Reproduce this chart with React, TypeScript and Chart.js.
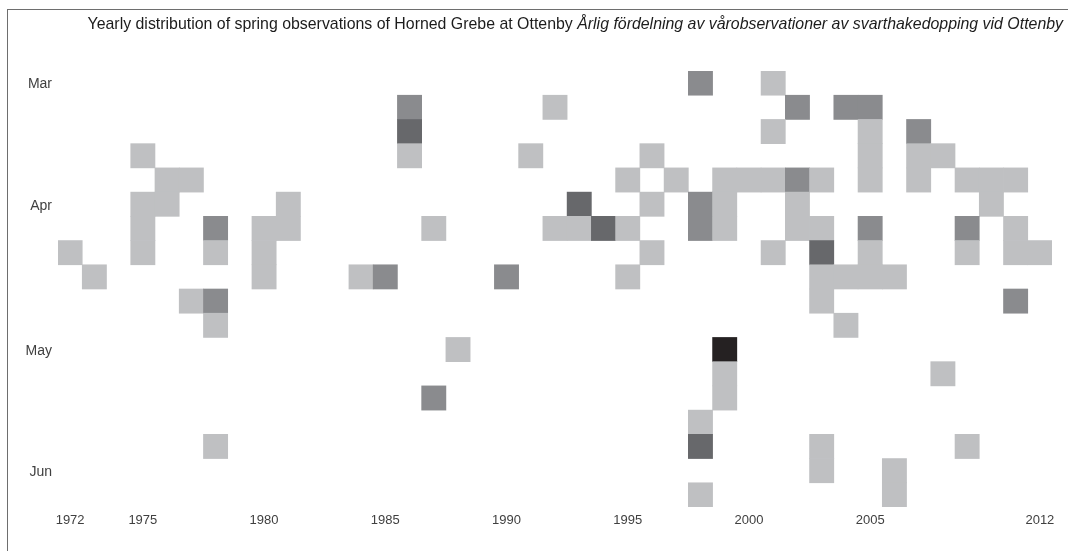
import React, { useEffect, useRef } from 'react';
import { Chart, registerables } from 'chart.js';

Chart.register(...registerables);

const titleNormal = 'Yearly distribution of spring observations of Horned Grebe at Ottenby';
const titleItalic = 'Årlig fördelning av vårobservationer av svarthakedopping vid Ottenby';

const years = [
  '1972', '1973', '1974', '1975', '1976', '1977', '1978', '1979', '1980', '1981',
  '1982', '1983', '1984', '1985', '1986', '1987', '1988', '1989', '1990', '1991',
  '1992', '1993', '1994', '1995', '1996', '1997', '1998', '1999', '2000', '2001',
  '2002', '2003', '2004', '2005', '2006', '2007', '2008', '2009', '2010', '2011', '2012',
];
const yearTickLabels = ['1972', '1975', '1980', '1985', '1990', '1995', '2000', '2005', '2012'];

const periodCount = 18;
const monthLabels = ['Mar', 'Apr', 'May', 'Jun'];
const monthRows = [0, 5, 11, 16];

// each observed cell: year, period row (0 = top), number of observations
const cellYear = [
  '1998', '2001',
  '1986', '1992', '2002', '2004', '2005',
  '1986', '2001', '2005', '2007',
  '1975', '1986', '1991', '1996', '2005', '2007', '2008',
  '1976', '1977', '1995', '1997', '1999', '2000', '2001', '2002', '2003', '2005', '2007', '2009', '2010', '2011',
  '1975', '1976', '1981', '1993', '1996', '1998', '1999', '2002', '2010',
  '1975', '1978', '1980', '1981', '1987', '1992', '1993', '1994', '1995', '1998', '1999', '2002', '2003', '2005', '2009', '2011',
  '1972', '1975', '1978', '1980', '1996', '2001', '2003', '2005', '2009', '2011', '2012',
  '1973', '1980', '1984', '1985', '1990', '1995', '2003', '2004', '2005', '2006',
  '1977', '1978', '2003', '2011',
  '1978', '2004',
  '1988', '1999',
  '1999', '2008',
  '1987', '1999',
  '1998',
  '1978', '1998', '2003', '2009',
  '2003', '2006',
  '1998', '2006',
];
const cellRow = [
  0, 0,
  1, 1, 1, 1, 1,
  2, 2, 2, 2,
  3, 3, 3, 3, 3, 3, 3,
  4, 4, 4, 4, 4, 4, 4, 4, 4, 4, 4, 4, 4, 4,
  5, 5, 5, 5, 5, 5, 5, 5, 5,
  6, 6, 6, 6, 6, 6, 6, 6, 6, 6, 6, 6, 6, 6, 6, 6,
  7, 7, 7, 7, 7, 7, 7, 7, 7, 7, 7,
  8, 8, 8, 8, 8, 8, 8, 8, 8, 8,
  9, 9, 9, 9,
  10, 10,
  11, 11,
  12, 12,
  13, 13,
  14,
  15, 15, 15, 15,
  16, 16,
  17, 17,
];
const cellCount = [
  2, 1,
  2, 1, 2, 2, 2,
  3, 1, 1, 2,
  1, 1, 1, 1, 1, 1, 1,
  1, 1, 1, 1, 1, 1, 1, 2, 1, 1, 1, 1, 1, 1,
  1, 1, 1, 3, 1, 2, 1, 1, 1,
  1, 2, 1, 1, 1, 1, 1, 3, 1, 2, 1, 1, 1, 2, 2, 1,
  1, 1, 1, 1, 1, 1, 3, 1, 1, 1, 1,
  1, 1, 1, 2, 2, 1, 1, 1, 1, 1,
  1, 2, 1, 2,
  1, 1,
  1, 4,
  1, 1,
  2, 1,
  1,
  1, 3, 1, 1,
  1, 1,
  1, 1,
];

const countColors = ['#bfc0c2', '#8a8b8e', '#67686b', '#252122'];

const mixedTitle = {
  id: 'mixedTitle',
  afterDraw(chart: any) {
    const ctx = chart.ctx;
    ctx.save();
    ctx.textBaseline = 'middle';
    ctx.textAlign = 'right';
    ctx.fillStyle = '#1c1c1c';
    const right = chart.width - 5;
    const y = 15;
    ctx.font = 'italic 15.9px "Liberation Sans", Arial, sans-serif';
    const iw = ctx.measureText(titleItalic).width;
    ctx.fillText(titleItalic, right, y);
    ctx.font = '15.9px "Liberation Sans", Arial, sans-serif';
    ctx.fillText(titleNormal + ' ', right - iw, y);
    ctx.restore();
  },
};

export default function App() {
  const canvasRef = useRef<HTMLCanvasElement | null>(null);

  useEffect(() => {
    if (!canvasRef.current) return;
    const data = cellYear.map((yr, i) => ({ x: yr, y: [cellRow[i], cellRow[i] + 1] }));
    const chart = new Chart(canvasRef.current, {
      type: 'bar',
      data: {
        labels: years,
        datasets: [
          {
            data: data as any,
            backgroundColor: (c: any) => countColors[Math.min(cellCount[c.dataIndex], 4) - 1],
            borderWidth: 0,
            barPercentage: 1,
            categoryPercentage: 1,
            grouped: false,
          },
        ],
      },
      options: {
        responsive: false,
        animation: false,
        events: [],
        layout: { padding: { top: 61, left: 0, right: 16, bottom: 0 } },
        plugins: {
          legend: { display: false },
          tooltip: { enabled: false },
          title: { display: false },
        },
        scales: {
          x: {
            type: 'category',
            offset: true,
            grid: { display: false, drawTicks: false },
            border: { display: false },
            afterFit(scale: any) {
              scale.height = 44;
            },
            ticks: {
              autoSkip: false,
              maxRotation: 0,
              padding: 6,
              color: '#404040',
              font: { family: '"Liberation Sans", Arial, sans-serif', size: 13 },
              callback(value: any, index: number) {
                const lbl = years[index];
                return yearTickLabels.includes(lbl) ? lbl : '';
              },
            },
          },
          y: {
            type: 'linear',
            min: 0,
            max: periodCount,
            reverse: true,
            grid: { display: false, drawTicks: false },
            border: { display: false },
            afterFit(scale: any) {
              scale.width = 50;
            },
            afterBuildTicks(scale: any) {
              scale.ticks = monthRows.map((r) => ({ value: r + 0.5 }));
            },
            ticks: {
              autoSkip: false,
              padding: 6,
              labelOffset: 1.5,
              color: '#404040',
              font: { family: '"Liberation Sans", Arial, sans-serif', size: 14 },
              callback(value: any, index: number) {
                return monthLabels[index];
              },
            },
          },
        },
      },
      plugins: [mixedTitle],
    });
    return () => chart.destroy();
  }, []);

  return (
    <div
      style={{
        position: 'absolute',
        left: 7,
        top: 9,
        width: 1061,
        height: 542,
        borderTop: '1px solid #6e6e6e',
        borderLeft: '1px solid #6e6e6e',
        background: '#fff',
        overflow: 'hidden',
      }}
    >
      <canvas ref={canvasRef} width={1060} height={541} style={{ display: 'block' }} />
    </div>
  );
}
